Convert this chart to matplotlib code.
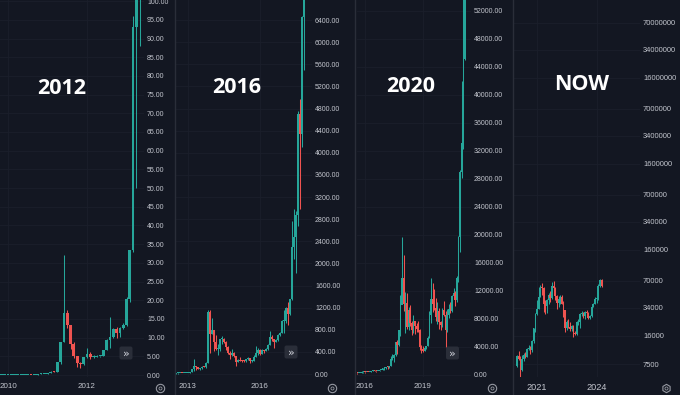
import matplotlib
matplotlib.use("Agg")
import matplotlib.pyplot as plt
import numpy as np
import pandas as pd
from matplotlib.patches import FancyBboxPatch

# ---- data: monthly BTC candles ----
p1_start = "2009-10"
p1_first_open = 0.01
p1_close = [0.01, 0.01, 0.01, 0.01, 0.01, 0.01, 0.01, 0.01, 0.05,
            0.07, 0.06, 0.06, 0.19, 0.21, 0.30,
            0.52, 0.86, 0.78, 3.50, 8.70, 16.5, 13.4, 8.20, 5.10, 3.25, 2.97, 4.70,
            5.50, 4.90, 4.90, 5.00, 5.20, 6.70, 9.40, 10.2, 12.4, 11.2, 12.6, 13.5,
            20.4, 33.4, 93.0, 139.0, 140.0]
p1_high = [0.01, 0.01, 0.01, 0.01, 0.01, 0.01, 0.01, 0.02, 0.06,
           0.10, 0.07, 0.07, 0.20, 0.50, 0.30,
           0.55, 1.10, 0.95, 3.60, 8.90, 32.0, 17.5, 13.5, 8.90, 5.20, 3.50, 4.80,
           7.20, 6.10, 5.40, 5.40, 5.20, 6.80, 9.70, 15.4, 12.5, 12.9, 12.9, 13.9,
           21.0, 33.5, 96.0, 266.0, 150.0]
p1_low = [0.01, 0.01, 0.01, 0.01, 0.01, 0.01, 0.01, 0.01, 0.01,
          0.05, 0.05, 0.05, 0.06, 0.19, 0.20,
          0.29, 0.52, 0.70, 0.78, 3.00, 8.70, 12.5, 7.00, 4.60, 2.20, 2.00, 2.80,
          4.50, 4.20, 4.60, 4.70, 4.90, 5.20, 6.60, 7.10, 9.80, 9.80, 10.1, 12.3,
          13.0, 19.6, 33.0, 50.0, 88.0]

p2_start = "2012-07"
p2_first_open = 6.7
p2_close = [9.4, 10.2, 12.4, 11.2, 12.6, 13.5,
            20.4, 33.4, 93, 139, 129, 97, 106, 135, 133, 204, 1130, 732,
            803, 573, 445, 447, 627, 640, 587, 481, 387, 338, 378, 318,
            218, 254, 244, 236, 230, 263, 284, 230, 236, 311, 377, 430,
            368, 437, 416, 448, 531, 673, 624, 575, 608, 700, 743, 963,
            965, 1190, 1080, 1350, 2300, 2480, 2875, 4700, 4340, 6450, 9950, 13800]
p2_high = [9.7, 15.4, 12.5, 12.9, 12.9, 13.9,
           21, 33.5, 96, 266, 140, 129, 111, 137, 145, 216, 1163, 1153,
           1021, 800, 704, 540, 630, 680, 650, 600, 500, 415, 460, 390,
           320, 280, 300, 260, 250, 268, 315, 285, 245, 335, 500, 470,
           460, 445, 440, 465, 545, 780, 705, 630, 625, 720, 755, 980,
           1150, 1210, 1300, 1350, 2760, 2980, 2950, 4750, 4980, 6470, 11400, 19700]
p2_low = [6.6, 7.1, 9.8, 9.8, 10.1, 12.3,
          13, 19.6, 33, 50, 79, 88, 66, 99, 124, 109, 200, 383,
          731, 410, 436, 340, 420, 550, 565, 440, 360, 275, 320, 300,
          152, 210, 235, 215, 225, 220, 250, 200, 225, 235, 300, 350,
          350, 365, 380, 410, 440, 530, 595, 475, 570, 600, 680, 740,
          750, 920, 890, 1060, 1340, 2080, 1830, 2680, 2980, 4110, 5500, 10900]

p3_start = "2015-07"
p3_first_open = 263
p3_close = [284, 230, 236, 311, 377, 430,
            368, 437, 416, 448, 531, 673, 624, 575, 608, 700, 743, 963,
            965, 1190, 1080, 1350, 2300, 2480, 2875, 4700, 4340, 6450, 9950, 13800,
            10200, 10300, 6900, 9240, 7490, 6390, 7730, 7030, 6630, 6370, 4040, 3740,
            3460, 3820, 4100, 5320, 8560, 10800, 10080, 9590, 8300, 9150, 7560, 7190,
            9350, 8540, 6420, 8620, 9450, 9140, 11350, 11650, 10780, 13800, 19700, 28990,
            33100, 45140, 58790]
p3_high = [315, 285, 245, 335, 500, 470,
           460, 445, 440, 465, 545, 780, 705, 630, 625, 720, 755, 980,
           1150, 1210, 1300, 1350, 2760, 2980, 2950, 4750, 4980, 6470, 11400, 19700,
           17200, 11800, 11700, 9750, 9990, 7780, 8500, 7760, 7410, 7680, 6560, 4240,
           4110, 4210, 4140, 5620, 9100, 13880, 13200, 12330, 10930, 10370, 9520, 7750,
           9580, 10500, 9190, 9460, 10080, 10380, 11450, 12470, 12070, 14100, 19900, 29300,
           41950, 58350, 61780]
p3_low = [250, 200, 225, 235, 300, 350,
          350, 365, 380, 410, 440, 530, 595, 475, 570, 600, 680, 740,
          750, 920, 890, 1060, 1340, 2080, 1830, 2680, 2980, 4110, 5500, 10900,
          9200, 6000, 6600, 6430, 7030, 5760, 6070, 5880, 6100, 6200, 3560, 3130,
          3350, 3390, 3730, 4080, 5330, 7440, 9060, 9340, 7710, 7300, 6530, 6430,
          6850, 8450, 3850, 6150, 8120, 8830, 8980, 10930, 9880, 10420, 13250, 17570,
          28100, 32300, 44950]

p4_start = "2020-01"
p4_first_open = 7200
p4_close = [9350, 8540, 6420, 8620, 9450, 9140, 11350, 11650, 10780, 13800, 19700, 28990,
            33100, 45140, 58790, 57720, 37300, 35040, 41460, 47100, 43800, 61300, 57000, 46300,
            38500, 43200, 45500, 37700, 31800, 19900, 23300, 20050, 19400, 20500, 17200, 16550,
            23100, 23150, 28500, 29250, 27200, 30500, 29250, 25950, 26970, 34650, 37700, 42300,
            42600, 61200, 71300, 60600]
p4_high = [9580, 10500, 9190, 9460, 10080, 10380, 11450, 12470, 12070, 14100, 19900, 29300,
           41950, 58350, 61780, 64900, 59600, 41300, 42300, 50500, 52900, 67000, 69000, 59000,
           47900, 45800, 48200, 47400, 40000, 31900, 24700, 25200, 22800, 21100, 21500, 18400,
           23900, 25250, 29200, 31000, 29800, 31400, 31800, 30200, 27500, 35200, 38400, 44700,
           48900, 63900, 73800, 72700]
p4_low = [6850, 8450, 3850, 6150, 8120, 8830, 8980, 10930, 9880, 10420, 13250, 17570,
          28100, 32300, 44950, 47000, 30000, 28800, 29300, 37300, 39600, 43300, 53300, 42000,
          32900, 34300, 37200, 37600, 26700, 17600, 18800, 19600, 18200, 18200, 15500, 16300,
          16500, 21400, 19550, 26900, 25800, 24800, 28900, 25200, 24900, 26600, 34100, 37600,
          38500, 41900, 59000, 59600]

titles = ["2012", "2016", "2020", "NOW"]
p1_yticks = [0, 5, 10, 15, 20, 25, 30, 35, 40, 45, 50, 55, 60, 65, 70, 75, 80, 85, 90, 95, 100]
p2_yticks = [0, 400, 800, 1200, 1600, 2000, 2400, 2800, 3200, 3600, 4000, 4400, 4800,
             5200, 5600, 6000, 6400]
p3_yticks = [0, 4000, 8000, 12000, 16000, 20000, 24000, 28000, 32000, 36000, 40000,
             44000, 48000, 52000]
p4_yticks = [7500, 16000, 34000, 70000, 160000, 340000, 700000, 1600000, 3400000,
             7000000, 16000000, 34000000, 70000000]
p1_xticks = [2010, 2012]
p2_xticks = [2013, 2016]
p3_xticks = [2016, 2019]
p4_xticks = [2021, 2024]

# ---- styling ----
W, H = 680, 395
BG = "#131722"
GRID = "#1b1f2b"
UP = "#26a69a"
DOWN = "#ef5350"
LABEL = "#c3c6ce"
TICK_FONT = "Liberation Sans"


def pixel_box(left, top, right, bottom):
    return [left / W, 1 - bottom / H, (right - left) / W, (bottom - top) / H]


def draw_candles(ax, start, first_open, close, high, low, width, min_body, log=False):
    close = np.asarray(close, dtype=float)
    high = np.asarray(high, dtype=float)
    low = np.asarray(low, dtype=float)
    opens = np.concatenate([[first_open], close[:-1]])
    periods = pd.period_range(start, periods=len(close), freq="M")
    x = periods.year.to_numpy() + (periods.month.to_numpy() - 1) / 12.0
    colors = np.where(close >= opens, UP, DOWN)

    ax.vlines(x, low, high, colors=colors, linewidth=0.75, zorder=2)
    bottom = np.minimum(opens, close)
    top = np.maximum(opens, close)
    if log:
        top = np.maximum(top, bottom * min_body)
    else:
        top = np.maximum(top, bottom + min_body)
    ax.bar(x, top - bottom, bottom=bottom, width=width / 12.0, color=colors,
           linewidth=0, zorder=3)


def style_axis(ax, xlim, ylim, xticks, yticks, yfmt, log=False, ysize=5.0, xsize=5.8):
    ax.set_facecolor(BG)
    if log:
        ax.set_yscale("log")
    ax.set_xlim(*xlim)
    ax.set_ylim(*ylim)
    ax.yaxis.tick_right()
    ax.set_yticks(yticks)
    ax.set_yticklabels([yfmt(v) for v in yticks])
    ax.minorticks_off()
    ax.set_xticks(xticks)
    ax.set_xticklabels([str(v) for v in xticks])
    ax.tick_params(axis="both", length=0, colors=LABEL)
    ax.tick_params(axis="y", pad=2.2, labelsize=ysize)
    ax.tick_params(axis="x", pad=4.0, labelsize=xsize)
    for lab in ax.get_xticklabels() + ax.get_yticklabels():
        lab.set_fontfamily(TICK_FONT)
    ax.grid(True, color=GRID, linewidth=0.6, zorder=0)
    for sp in ax.spines.values():
        sp.set_visible(False)


def main() -> None:
    fig = plt.figure(figsize=(W / 100, H / 100), dpi=100, facecolor=BG)

    ax1 = fig.add_axes(pixel_box(0, 0, 144, 377))
    draw_candles(ax1, p1_start, p1_first_open, p1_close, p1_high, p1_low, 0.85, 0.27)
    style_axis(ax1, (2009.797, 2013.443), (-0.53, 100.3), p1_xticks, p1_yticks,
               lambda v: f"{v:.2f}")

    ax2 = fig.add_axes(pixel_box(176, 0, 312, 377))
    draw_candles(ax2, p2_start, p2_first_open, p2_close, p2_high, p2_low, 0.95, 18)
    style_axis(ax2, (2012.5, 2018.167), (-54, 6762), p2_xticks, p2_yticks,
               lambda v: f"{v:.2f}")

    ax3 = fig.add_axes(pixel_box(357, 0, 471, 377))
    draw_candles(ax3, p3_start, p3_first_open, p3_close, p3_high, p3_low, 0.95, 143)
    style_axis(ax3, (2015.586, 2021.483), (-286, 53571), p3_xticks, p3_yticks,
               lambda v: f"{v:.2f}")

    ax4 = fig.add_axes(pixel_box(513, 0, 640, 377))
    draw_candles(ax4, p4_start, p4_first_open, p4_close, p4_high, p4_low, 0.95, 1.027,
                 log=True)
    style_axis(ax4, (2019.79, 2026.19), (5300, 1.28e8), p4_xticks, p4_yticks,
               lambda v: f"{int(v)}", log=True, ysize=5.4, xsize=6.6)

    # overlay in pixel coordinates for titles, separators and buttons
    ov = fig.add_axes([0, 0, 1, 1], zorder=10)
    ov.set_xlim(0, W)
    ov.set_ylim(H, 0)
    ov.axis("off")
    ov.patch.set_alpha(0)

    for x in (174.5, 355, 512.5):
        ov.plot([x, x], [0, H], color="#2a2e39", linewidth=1.0)

    title_pos = [(62, 89), (237, 87.5), (410.5, 87), (581.5, 85)]
    for text, (tx, ty) in zip(titles, title_pos):
        ov.text(tx, ty, text, color="white", fontsize=15.5, fontweight="bold",
                family="Open Sans", ha="center", va="center")

    for bx, by in [(126, 353), (291, 352), (452.5, 353)]:
        ov.add_patch(FancyBboxPatch((bx - 6.5, by - 6.5), 13, 13,
                                    boxstyle="round,pad=0,rounding_size=2",
                                    facecolor="#2a2e39", edgecolor="none"))
        ov.text(bx, by + 0.5, "»", color="#d1d4dc", fontsize=8, ha="center",
                va="center", family="DejaVu Sans")

    for gx, marker in [(160, "o"), (332, "o"), (492, "o"), (666, "h")]:
        ov.plot(gx, 387.5, marker=marker, markersize=6, markerfacecolor="none",
                markeredgecolor="#9598a1", markeredgewidth=0.8)
        ov.plot(gx, 387.5, marker="o", markersize=2.2, markerfacecolor="none",
                markeredgecolor="#9598a1", markeredgewidth=0.6)

    fig.savefig("out.png", dpi=100, facecolor=BG)


if __name__ == "__main__":
    main()
